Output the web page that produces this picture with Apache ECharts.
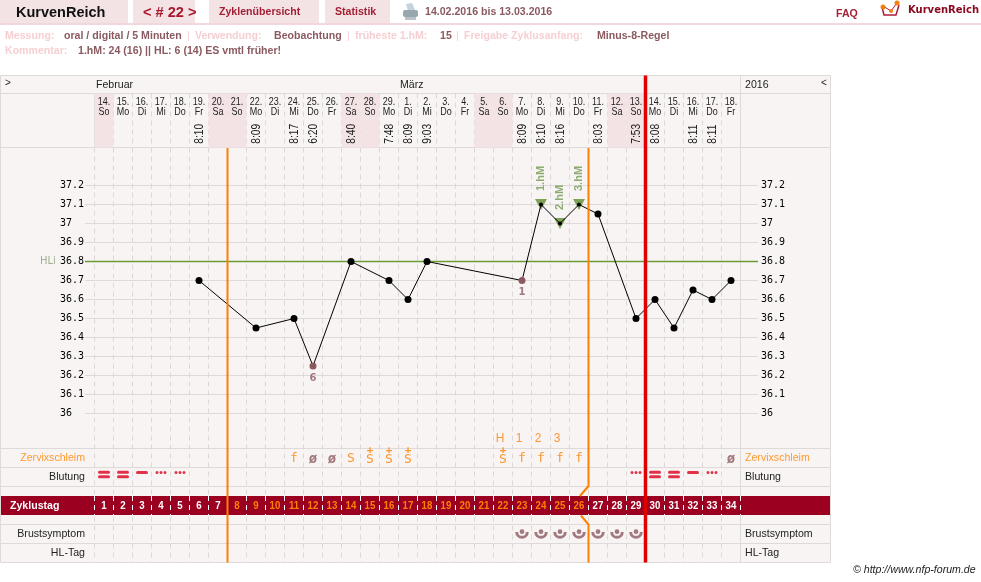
<!DOCTYPE html>
<html><head><meta charset="utf-8">
<style>html,body{margin:0;padding:0;background:#fff}#c{width:981px;height:582px}</style>
<script src="https://cdn.jsdelivr.net/npm/echarts@6/dist/echarts.min.js"></script>
</head><body><div id="c"></div>
<script>
// Cycle chart: one column per calendar day, 14.02. to 18.03.2016
const dayNumbers = ['14','15','16','17','18','19','20','21','22','23','24','25','26','27','28','29','1','2','3','4','5','6','7','8','9','10','11','12','13','14','15','16','17','18'];
const weekdays = ['So','Mo','Di','Mi','Do','Fr','Sa','So','Mo','Di','Mi','Do','Fr','Sa','So','Mo','Di','Mi','Do','Fr','Sa','So','Mo','Di','Mi','Do','Fr','Sa','So','Mo','Di','Mi','Do','Fr'];
const cycleDays = ['1','2','3','4','5','6','7','8','9','10','11','12','13','14','15','16','17','18','19','20','21','22','23','24','25','26','27','28','29','30','31','32','33','34'];
const weekendDays = [1,7,8,14,15,21,22,28,29];
const measureTimes = [null,null,null,null,null,'8:10',null,null,'8:09',null,'8:17','6:20',null,'8:40',null,'7:48','8:09','9:03',null,null,null,null,'8:09','8:10','8:16',null,'8:03',null,'7:53','8:08',null,'8:11','8:11',null];
const temperatures = [null,null,null,null,null,36.7,null,null,36.45,null,36.5,36.25,null,36.8,null,36.7,36.6,36.8,null,null,null,null,36.7,37.1,37.0,37.1,37.05,null,36.5,36.6,36.45,36.65,36.6,36.7];
const excludedDays = [12,23];
const excludedNotes = ['6','1'];
const peakDays = [24,25,26];
const peakLabels = ['1.hM','2.hM','3.hM'];
const tempTicksMin = 36, tempTicksMax = 37.2;
const coverLineValue = 36.8;
const fertileStartDay = 8, fertileEndDay = 26, cycleEndDay = 29;
const mucusCodes = {11:'f',12:'ø',13:'ø',14:'S',15:'S+',16:'S+',17:'S+',22:'S+',23:'f',24:'f',25:'f',26:'f',34:'ø'};
const mucusPeakTags = {22:'H',23:'1',24:'2',25:'3'};
const heavyBleedDays = [1,2,30,31];
const mediumBleedDays = [3,32];
const spottingDays = [4,5,29,33];
const breastSymptomDays = [23,24,25,26,27,28,29];

const F = 'Liberation Sans', MONO = 'DejaVu Sans Mono';
const PINK = '#f3e3e5', PANEL = '#f9f4f4', RULE = '#dedada', DARK = '#9b0021', ORANGE = '#ff8000', RED = '#e00000', BLEED = '#d8001c', BROWN = '#8b5a60', GREEN = '#6a9c35', MAROON = '#a31f34';
const COL_LEFT = 94.5, COL_W = 646;
const BASE_FONT = 10.6;

// One grid per horizontal band of the chart, all sharing the same day columns
const FRAME_TOP = 75.5, FRAME_H = 487;
const bands = {
  columns: {top:93.5, height:469},
  frame:   {top:FRAME_TOP, height:FRAME_H},
  header:  {top:93.5, height:54},
  ticks:   {top:185.5, height:228, left:85, width:673},
  temp:    {top:185.5, height:228},
  tags:    {top:430, height:18},
  mucus:   {top:450, height:18},
  bleed:   {top:468, height:13},
  cday:    {top:496, height:19},
  breast:  {top:525, height:18},
};
const names = Object.keys(bands);
const gridIdx = n => names.indexOf(n);
const grids = names.map(n => Object.assign({left:COL_LEFT, width:COL_W, containLabel:false, show:false}, bands[n]));
const xBase = {type:'category', data:cycleDays, axisLine:{show:false}, axisTick:{show:false}, axisLabel:{show:false}, splitLine:{show:false}};
const xAxes = names.map(n => {
  const a = Object.assign({}, xBase, {gridIndex:gridIdx(n)});
  if (n === 'columns') a.splitLine = {show:true, lineStyle:{color:'#dcd8d8', type:[5,4], width:1}};
  if (n === 'cday') { a.splitLine = {show:true, lineStyle:{color:'#fff', type:[5,4], width:1}}; a.z = 3; }
  if (n === 'ticks') return {type:'value', gridIndex:gridIdx(n), min:0, max:1, show:false};
  // the frame grid is addressed in day boundaries, so rules can sit between two days
  if (n === 'frame') return {type:'value', gridIndex:gridIdx(n), min:0, max:34, show:false};
  return a;
});
const tempLabel = {color:'#000', fontFamily:MONO, fontSize:10, align:'left', formatter:v => String(+v.toFixed(1))};
const yAxes = names.map(n => {
  if (n === 'ticks') return {type:'value', gridIndex:gridIdx(n), min:tempTicksMin, max:tempTicksMax, interval:0.1,
    axisLine:{show:false}, axisTick:{show:false},
    splitLine:{show:true, lineStyle:{color:RULE, width:1}},
    axisLabel:Object.assign({margin:25}, tempLabel)};
  if (n === 'temp') return {type:'value', gridIndex:gridIdx(n), min:tempTicksMin, max:tempTicksMax, show:false};
  return {type:'value', gridIndex:gridIdx(n), min:0, max:1, show:false};
});
yAxes.push({type:'value', gridIndex:gridIdx('ticks'), position:'right', min:tempTicksMin, max:tempTicksMax, interval:0.1,
  axisLine:{show:false}, axisTick:{show:false}, splitLine:{show:false},
  axisLabel:Object.assign({margin:3}, tempLabel)});
const bandSeries = (band, s) => Object.assign({xAxisIndex:gridIdx(band), yAxisIndex:gridIdx(band), silent:true, animation:false}, s);
const dayIdx = d => d - 1;
const pointAt = (d, text) => ({value:[dayIdx(d), 0.5], text});

const series = [];
// weekend shading in the date header
series.push(bandSeries('header', {type:'bar', barWidth:'100%', z:1,
  data: cycleDays.map((_, i) => weekendDays.includes(i + 1) ? 1 : null), itemStyle:{color:PINK}}));
// dates, set in condensed type
series.push(bandSeries('header', {type:'custom', z:4,
  data: dayNumbers.map((d, i) => [i, 1]),
  renderItem: (params, api) => {
    const i = api.value(0), p = api.coord([i, 1]);
    const mk = (t, y) => ({type:'text', x:p[0], y:p[1] + y, scaleX:0.78, silent:true,
      style:{text:t, fontFamily:F, fontSize:11.5, fill:'#222', textAlign:'center', textVerticalAlign:'middle'}});
    return {type:'group', children:[mk(dayNumbers[i] + '.', 8.6), mk(weekdays[i], 18.2)]};
  }}));
// measuring times, written upward
series.push(bandSeries('header', {type:'custom', z:4,
  data: measureTimes.map((t, i) => t ? [i, 0.07] : null).filter(Boolean),
  renderItem: (params, api) => {
    const i = api.value(0), p = api.coord([i, api.value(1)]);
    return {type:'text', x:p[0] + 0.5, y:p[1], rotation:Math.PI / 2, scaleX:0.85, silent:true,
      style:{text:measureTimes[i], fontFamily:F, fontSize:12, fill:'#222', textAlign:'left', textVerticalAlign:'middle'}};
  }}));
// coverline
series.push(bandSeries('ticks', {type:'line', z:3, symbol:'none',
  data:[[0, coverLineValue],[1, coverLineValue]], lineStyle:{color:GREEN, width:1.4}}));
// peak-day triangles under the temperature dots
series.push(bandSeries('temp', {type:'scatter', symbol:'triangle', symbolRotate:180, symbolSize:[12,11], z:4,
  data: peakDays.map(d => [dayIdx(d), temperatures[dayIdx(d)]]), itemStyle:{color:'#5f8f30'}}));
// peak-day captions
series.push(bandSeries('temp', {type:'scatter', symbolSize:0, z:5,
  data: peakDays.map((d, i) => ({value:[dayIdx(d), temperatures[dayIdx(d)]], text:peakLabels[i]})),
  label:{show:true, position:'top', distance:13, rotate:90, align:'left', verticalAlign:'middle', offset:[0.5,0], formatter:p => p.data.text, color:'#6f9a50', fontFamily:F, fontWeight:'bold', fontSize:11}}));
// temperature curve
series.push(bandSeries('temp', {type:'line', connectNulls:true, z:6, symbol:'circle', symbolSize:(v, p) => peakDays.includes(p.dataIndex + 1) ? 4 : 7,
  data: temperatures.map((v, i) => ({value:v, itemStyle:{color: excludedDays.includes(i + 1) ? BROWN : '#000'}})),
  lineStyle:{color:'#000', width:1}, itemStyle:{color:'#000'}}));
// notes under excluded readings
series.push(bandSeries('temp', {type:'scatter', symbolSize:0, z:6,
  data: excludedDays.map((d, i) => ({value:[dayIdx(d), temperatures[dayIdx(d)]], text:excludedNotes[i]})),
  label:{show:true, position:'bottom', distance:7, formatter:p => p.data.text, color:BROWN, fontFamily:'DejaVu Sans', fontSize:10, fontWeight:'bold'}}));
// cervical mucus codes
const mucusRich = {
  s:{color:ORANGE, fontFamily:MONO, fontSize:13, lineHeight:11},
  p:{color:ORANGE, fontFamily:MONO, fontWeight:'bold', fontSize:11, lineHeight:8},
  o:{color:BROWN, fontFamily:MONO, fontWeight:'bold', fontSize:14, lineHeight:11}
};
const mucusText = c => c === 'S+' ? '{p|+}\n{s|S}' : c === 'ø' ? '{o|ø}' : '{s|' + c + '}';
series.push(bandSeries('mucus', {type:'scatter', symbolSize:0, z:4,
  data: Object.keys(mucusCodes).map(d => {
    const o = pointAt(+d, mucusCodes[d]);
    // the plus sits above the letter, so its line must not push the letter up
    if (mucusCodes[d] === 'S+') o.label = {offset:[0,-3.5]};
    return o;
  }),
  label:{show:true, position:'inside', formatter:p => mucusText(p.data.text), rich:mucusRich}}));
series.push(bandSeries('tags', {type:'scatter', symbolSize:0, z:4,
  data: Object.keys(mucusPeakTags).map(d => pointAt(+d, mucusPeakTags[d])),
  label:{show:true, position:'inside', offset:[-3,0], formatter:p => p.data.text, color:ORANGE, fontFamily:F, fontSize:12}}));
// bleeding
const BAR2 = 'path://M1.5 0H10.5A1.5 1.5 0 0 1 10.5 3H1.5A1.5 1.5 0 0 1 1.5 0ZM1.5 4.5H10.5A1.5 1.5 0 0 1 10.5 7.5H1.5A1.5 1.5 0 0 1 1.5 4.5Z';
const DOT3 = 'path://M1.5 0A1.5 1.5 0 1 1 1.5 3A1.5 1.5 0 1 1 1.5 0ZM5.5 0A1.5 1.5 0 1 1 5.5 3A1.5 1.5 0 1 1 5.5 0ZM9.5 0A1.5 1.5 0 1 1 9.5 3A1.5 1.5 0 1 1 9.5 0Z';
const BAR1 = 'path://M1.5 0H10.5A1.5 1.5 0 0 1 10.5 3H1.5A1.5 1.5 0 0 1 1.5 0Z';
series.push(bandSeries('bleed', {type:'scatter', symbol:BAR2, symbolSize:[12,7.5], z:4, data:heavyBleedDays.map(d => [dayIdx(d),0.5]), itemStyle:{color:BLEED}}));
series.push(bandSeries('bleed', {type:'scatter', symbol:BAR1, symbolSize:[12,3], symbolOffset:[0,-2], z:4, data:mediumBleedDays.map(d => [dayIdx(d),0.5]), itemStyle:{color:BLEED}}));
series.push(bandSeries('bleed', {type:'scatter', symbol:DOT3, symbolSize:[11,3], symbolOffset:[0,-2], z:4, data:spottingDays.map(d => [dayIdx(d),0.5]), itemStyle:{color:BLEED}}));
// cycle-day numbers inside the dark band
series.push(bandSeries('cday', {type:'custom', z:5,
  data: cycleDays.map((c, i) => [i, 0.5]),
  renderItem: (params, api) => {
    const i = api.value(0), p = api.coord([i, 0.5]);
    return {type:'text', x:p[0], y:p[1], scaleX:0.88, silent:true,
      style:{text:cycleDays[i], fontFamily:F, fontWeight:'bold', fontSize:11, textAlign:'center', textVerticalAlign:'middle',
        fill:(i + 1 >= fertileStartDay && i + 1 <= fertileEndDay) ? ORANGE : '#fff'}};
  }}));
// breast symptom marks
const BREAST = 'path://M6.5 0A2.3 2.3 0 1 1 6.5 4.6A2.3 2.3 0 1 1 6.5 0ZM0 2.5A6.5 6.5 0 0 0 13 2.5H10.2A3.7 3.7 0 0 1 2.8 2.5Z';
series.push(bandSeries('breast', {type:'scatter', symbol:BREAST, symbolSize:[13.5,9.5], z:4, data:breastSymptomDays.map(d => [dayIdx(d),0.5]), itemStyle:{color:BROWN}}));
// cycle boundaries drawn as vertical rules
const frameY = v => 1 - (v - FRAME_TOP) / FRAME_H;
const boundarySeries = (points, color, width) => bandSeries('frame', {type:'line', z:7, symbol:'none',
  data:points, lineStyle:{color, width, cap:'butt'}});
series.push(boundarySeries([[fertileStartDay-1, frameY(148)],[fertileStartDay-1, 0]], ORANGE, 2));
series.push(boundarySeries([[fertileEndDay, frameY(148)],[fertileEndDay, frameY(486)],[fertileEndDay-0.45, frameY(496)]], ORANGE, 2));
series.push(boundarySeries([[fertileEndDay-0.4, frameY(515.5)],[fertileEndDay, frameY(524.5)],[fertileEndDay, 0]], ORANGE, 2));
series.push(boundarySeries([[cycleEndDay, 1],[cycleEndDay, 0]], RED, 3.5));

const tx = (x, y, text, o) => ({type:'text', x, y, silent:true, z:o && o.z || 8, style:Object.assign({text, fontFamily:F, fontSize:BASE_FONT, fill:'#222', textVerticalAlign:'middle'}, o)});
const rc = (x, y, w, h, fill, z) => ({type:'rect', silent:true, z:z === undefined ? -5 : z, shape:{x,y,width:w,height:h}, style:{fill}});
const ln = (x1, y1, x2, y2, c, z) => ({type:'line', silent:true, z:z === undefined ? -3 : z, shape:{x1,y1,x2,y2}, style:{stroke:c || RULE, lineWidth:1}});
const bold = 'bold';
const graphic = [
  // page header
  rc(0,0,128,23,PINK), rc(133,0,62,23,PINK), rc(209,0,110,23,PINK), rc(325,0,65,23,PINK), rc(0,23,981,2,'#f2d8dc'),
  tx(16,13,'KurvenReich',{fontSize:14.5,fontWeight:bold,fill:'#111'}),
  tx(143,13,'< # 22 >',{fontSize:14.6,fontWeight:bold,fill:'#a8182e'}),
  tx(219,12,'Zyklenübersicht',{fontWeight:bold,fill:MAROON}),
  tx(335,12,'Statistik',{fontWeight:bold,fill:MAROON}),
  tx(425,12,'14.02.2016 bis 13.03.2016',{fontWeight:bold,fill:BROWN}),
  tx(836,14,'FAQ',{fontWeight:bold,fill:MAROON}),
  tx(908,10,'KurvenReich',{fontFamily:'DejaVu Sans',fontSize:10,fontWeight:bold,fill:'#8a0a20'}),
  // printer icon
  {type:'polygon', silent:true, z:9, shape:{points:[[406,4],[412,3],[415,10],[408,11]]}, style:{fill:'#c4d2de'}},
  {type:'rect', silent:true, z:9, shape:{x:403,y:10,width:15,height:7,r:2}, style:{fill:'#98a6b0'}},
  rc(405,17,11,3,'#b8c2c9',9),
  // logo
  {type:'polyline', silent:true, z:9, shape:{points:[[882,7],[884,15],[896,15],[899,5]]}, style:{stroke:'#b01838',lineWidth:1.5,fill:null}},
  {type:'polyline', silent:true, z:9, shape:{points:[[883,6],[891,11],[897,3]]}, style:{stroke:'#b01838',lineWidth:1,fill:null}},
  {type:'circle', silent:true, z:9, shape:{cx:883,cy:7,r:2.5}, style:{fill:'#f08010'}},
  {type:'circle', silent:true, z:9, shape:{cx:891,cy:11,r:2}, style:{fill:'#f08010'}},
  {type:'circle', silent:true, z:9, shape:{cx:897,cy:3,r:2.5}, style:{fill:'#f08010'}},
  // measurement settings
  tx(5,36.5,'Messung:',{fontWeight:bold,fill:'#f6cfd2'}),
  tx(64,36.5,'oral / digital / 5 Minuten',{fontWeight:bold,fill:BROWN}),
  tx(187,36.5,'|',{fill:'#f6cfd2'}),
  tx(195,36.5,'Verwendung:',{fontWeight:bold,fill:'#f6cfd2'}),
  tx(274,36.5,'Beobachtung',{fontWeight:bold,fill:BROWN}),
  tx(347,36.5,'|',{fill:'#f6cfd2'}),
  tx(355,36.5,'früheste 1.hM:',{fontWeight:bold,fill:'#f6cfd2'}),
  tx(440,36.5,'15',{fontWeight:bold,fill:BROWN}),
  tx(456,36.5,'|',{fill:'#f6cfd2'}),
  tx(464,36.5,'Freigabe Zyklusanfang:',{fontWeight:bold,fill:'#f6cfd2'}),
  tx(597,36.5,'Minus-8-Regel',{fontWeight:bold,fill:BROWN}),
  tx(5,51.5,'Kommentar:',{fontWeight:bold,fill:'#f6cfd2'}),
  tx(78,51.5,'1.hM: 24 (16) || HL: 6 (14) ES vmtl früher!',{fontWeight:bold,fill:BROWN}),
  // chart panel and rows
  rc(0.5,75.5,830,487,PANEL),
  ln(0.5,75.5,830.5,75.5), ln(0.5,93.5,830.5,93.5), ln(0.5,147.5,830.5,147.5),
  ln(0.5,448.5,830.5,448.5), ln(0.5,467.5,830.5,467.5), ln(0.5,486.5,830.5,486.5),
  ln(0.5,524.5,830.5,524.5), ln(0.5,543.5,830.5,543.5), ln(0.5,562.5,830.5,562.5),
  ln(0.5,75.5,0.5,562.5), ln(830.5,75.5,830.5,562.5), ln(740.5,75.5,740.5,562.5), ln(94.5,93.5,94.5,147.5),
  rc(1,496,829,19,DARK,1),
  tx(5,83,'>',{fontSize:10}), tx(821,83,'<',{fontSize:10}),
  tx(96,85,'Februar'), tx(400,85,'März'), tx(745,85,'2016'),
  tx(40,261,'HLi',{fontFamily:'DejaVu Sans',fontSize:10,fill:'#a0b092'}),
  tx(85,458,'Zervixschleim',{fill:'#ff9a30',textAlign:'right'}),
  tx(85,477,'Blutung',{textAlign:'right'}),
  tx(85,534,'Brustsymptom',{textAlign:'right'}),
  tx(85,553,'HL-Tag',{textAlign:'right'}),
  tx(10,506,'Zyklustag',{fontWeight:bold,fill:'#fff'}),
  tx(745,458,'Zervixschleim',{fill:'#ff9a30'}),
  tx(745,477,'Blutung'),
  tx(745,534,'Brustsymptom'),
  tx(745,553,'HL-Tag'),
  tx(853,570,'© http://www.nfp-forum.de',{fontStyle:'italic'}),
];

const chart = echarts.init(document.getElementById('c'), null, {renderer:'canvas'});
chart.setOption({animation:false, grid:grids, xAxis:xAxes, yAxis:yAxes, series, graphic:{elements:graphic}});
</script></body></html>
